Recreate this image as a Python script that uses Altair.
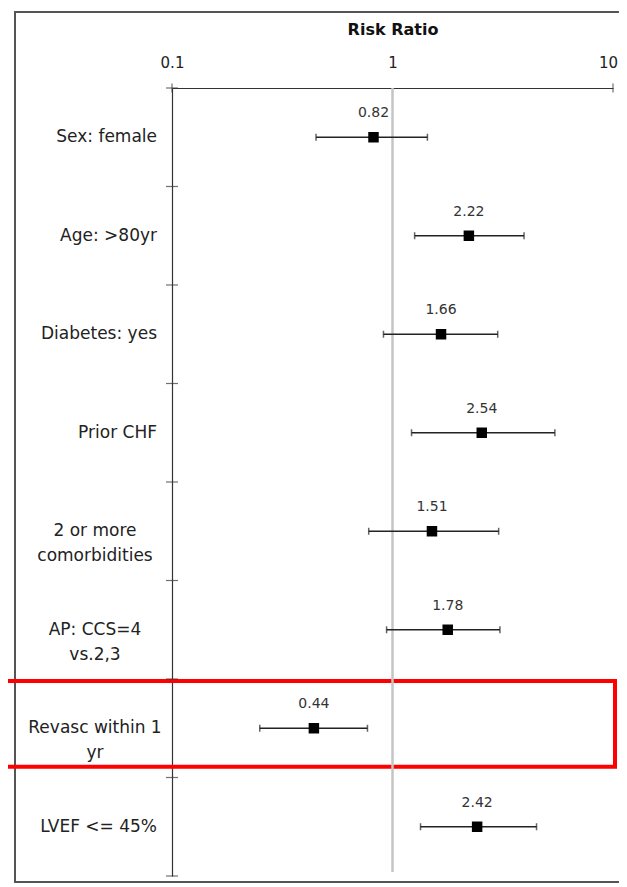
import altair as alt
import pandas as pd

# ---- data ----
labels = ["Sex: female", "Age: >80yr", "Diabetes: yes", "Prior CHF",
          "2 or more\ncomorbidities", "AP: CCS=4\nvs.2,3", "Revasc within 1\nyr", "LVEF <= 45%"]
risk_ratio = [0.82, 2.22, 1.66, 2.54, 1.51, 1.78, 0.44, 2.42]
ci_lower = [0.45, 1.26, 0.91, 1.22, 0.78, 0.94, 0.25, 1.34]
ci_upper = [1.44, 3.95, 3.00, 5.45, 3.03, 3.07, 0.77, 4.50]
x_ticks = [0.1, 1, 10]
x_end_ticks = [0.1, 10]
reference_value = [1]
highlight_index = 6

df = pd.DataFrame({
    "idx": list(range(len(labels))),
    "label": labels,
    "rr": risk_ratio,
    "lo": ci_lower,
    "hi": ci_upper,
})
df["pos"] = df["idx"] + 0.5
df["multi"] = df["label"].str.contains("\n")

row_bounds = pd.DataFrame({"b": list(range(len(labels) + 1)), "x": 0.1})
top_ticks = pd.DataFrame({"t": x_end_ticks, "y": 0})
ref_df = pd.DataFrame({"ref": reference_value})

FONT = "DejaVu Sans"
W, H = 441, 788
xscale = alt.Scale(type="log", domain=[0.1, 10], nice=False)
yscale = alt.Scale(domain=[0, len(labels)], reverse=True, nice=False, zero=False)

xaxis = alt.Axis(
    orient="top", values=x_ticks, format="~g", title="Risk Ratio",
    titleFontSize=16, titleFontWeight="bold", titleFont=FONT, titleColor="#111111",
    titlePadding=18, labelFontSize=15, labelFont=FONT, labelColor="#222222",
    labelPadding=18, labelFlush=False, labelOverlap=False, ticks=False, tickSize=0,
    labelOffset={"condition": {"test": "datum.value >= 10", "value": -5}, "value": 0},
    domain=True, domainColor="#333333", domainWidth=1.2, grid=False)
yaxis = alt.Axis(
    orient="left", labels=False, ticks=False, tickSize=0, domain=True,
    domainColor="#333333", domainWidth=1.2, grid=False, title=None)


def X(field, **kw):
    return alt.X(field, scale=xscale, axis=xaxis, **kw)


def Y(field, **kw):
    return alt.Y(field, scale=yscale, axis=yaxis, **kw)


base = alt.Chart(df)

frame = alt.Chart(pd.DataFrame({"k": [0]})).mark_rect(
    filled=False, stroke="#555555", strokeWidth=2
).encode(x=alt.value(-157), x2=alt.value(470), y=alt.value(-76), y2=alt.value(794))

highlight = base.transform_filter(
    alt.datum.idx == highlight_index
).transform_calculate(
    y0="datum.pos - 0.48", y1="datum.pos + 0.39"
).mark_rect(filled=False, stroke="#ff0000", strokeWidth=4).encode(
    x=alt.value(-200), x2=alt.value(443),
    y=Y("y0:Q"), y2="y1:Q"
)

refline = alt.Chart(ref_df).mark_rule(color="#c4c4c4", strokeWidth=2.5).encode(
    x=X("ref:Q"), y=alt.value(0), y2=alt.value(H - 4)
)

left_ticks = alt.Chart(row_bounds).mark_tick(
    orient="horizontal", size=12, thickness=1.2, color="#333333"
).encode(x=X("x:Q"), y=Y("b:Q"))

top_tick_marks = alt.Chart(top_ticks).mark_tick(
    orient="vertical", size=9, thickness=1.2, color="#333333"
).encode(x=X("t:Q"), y=Y("y:Q"))

ci = base.mark_rule(color="#222222", strokeWidth=1.3).encode(
    x=X("lo:Q"), x2="hi:Q", y=Y("pos:Q")
)

caps = base.transform_fold(["lo", "hi"], as_=["end", "v"]).mark_tick(
    orient="vertical", size=7, thickness=1.5, color="#222222"
).encode(x=X("v:Q"), y=Y("pos:Q"))

points = base.mark_square(size=110, color="black", opacity=1, filled=True).encode(
    x=X("rr:Q"), y=Y("pos:Q")
)

values = base.mark_text(dy=-24, fontSize=14, font=FONT, color="#333333").encode(
    x=X("rr:Q"), y=Y("pos:Q"), text=alt.Text("rr:Q", format=".2f")
)

labels_single = base.transform_filter("!datum.multi").mark_text(
    align="right", baseline="middle", fontSize=17, font=FONT, color="#222222"
).encode(x=alt.value(-15), y=Y("pos:Q"), text="label:N")

labels_multi = base.transform_filter("datum.multi").mark_text(
    align="center", baseline="middle", lineBreak="\n", lineHeight=25,
    fontSize=17, font=FONT, color="#222222"
).encode(x=alt.value(-77), y=Y("pos:Q"), text="label:N")

chart = alt.layer(
    frame, highlight, refline, left_ticks, top_tick_marks, ci, caps, points,
    values, labels_single, labels_multi
).properties(
    width=W, height=H,
    autosize=alt.AutoSizeParams(type="none"),
    padding={"left": 164, "top": 80, "right": 6, "bottom": 8},
    background="white",
).configure_view(stroke=None)

chart.save("out.html", embed_options={"renderer": "svg", "actions": False})
